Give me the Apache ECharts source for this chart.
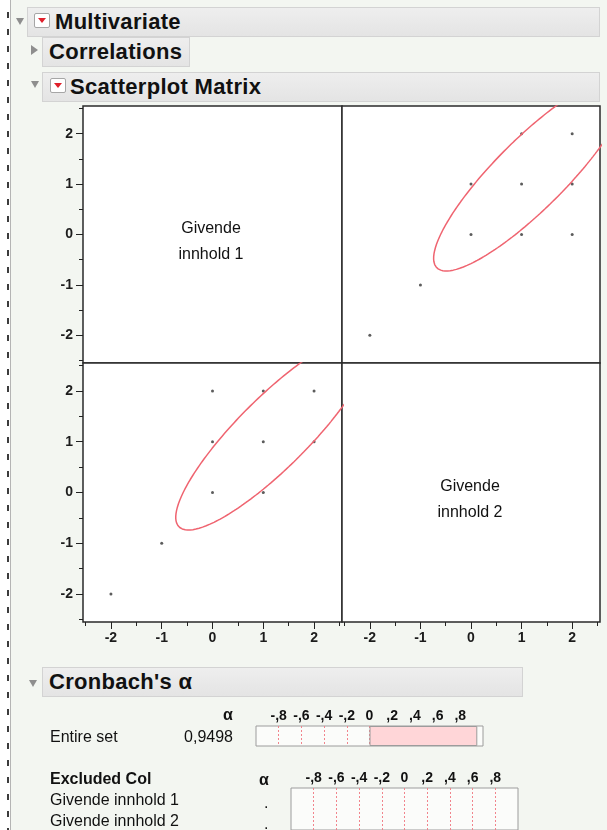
<!DOCTYPE html>
<html>
<head>
<meta charset="utf-8">
<title>Multivariate</title>
<script src="https://cdn.jsdelivr.net/npm/echarts@6/dist/echarts.min.js"></script>
<style>
html,body{margin:0;padding:0;}
body{width:607px;height:830px;overflow:hidden;background:#fff;position:relative;
  font-family:"Liberation Sans",Arial,Helvetica,sans-serif;color:#111;}
#page{position:absolute;left:11px;top:0;width:596px;height:830px;background:#f3f6f1;}
#edge{position:absolute;left:10px;top:0;width:1px;height:830px;background:#b4b4b4;}
#marks{position:absolute;left:7px;top:12px;width:2px;height:818px;
  background:repeating-linear-gradient(#3c3c3c 0 6px,transparent 6px 17px);}
#chart{position:absolute;left:0;top:0;width:607px;height:830px;z-index:1;}
.hdr{position:absolute;height:30px;box-sizing:border-box;background:linear-gradient(#eeeeee,#e4e4e4);
  border:1px solid #d3d3d3;font-weight:bold;font-size:22px;line-height:28px;white-space:nowrap;z-index:2;}
.hdr span{position:absolute;top:0;letter-spacing:0.3px;}
.tri-d{position:absolute;width:0;height:0;border-left:4px solid transparent;border-right:4px solid transparent;
  border-top:7px solid #8e8e8e;z-index:2;}
.tri-r{position:absolute;width:0;height:0;border-top:5px solid transparent;border-bottom:5px solid transparent;
  border-left:7px solid #8e8e8e;z-index:2;}
.icon{position:absolute;top:5px;width:16px;height:15px;box-sizing:border-box;background:#fff;
  border:1px solid #a6a6a6;border-radius:2px;}
.icon:after{content:"";position:absolute;left:3px;top:4px;width:0;height:0;border-left:4px solid transparent;
  border-right:4px solid transparent;border-top:5px solid #e0202b;}
.txt{position:absolute;font-size:16px;line-height:20px;white-space:nowrap;z-index:2;}
.b{font-weight:bold;}
.cell{position:absolute;font-size:16px;line-height:26px;text-align:center;width:120px;z-index:2;}
</style>
</head>
<body>
<div id="page"></div>
<div id="edge"></div>
<div id="marks"></div>

<div class="tri-d" style="left:16px;top:18px;"></div>
<div class="hdr" style="left:27px;top:7px;width:573px;"><div class="icon" style="left:6px;"></div><span style="left:27px;">Multivariate</span></div>
<div class="tri-r" style="left:31px;top:45px;"></div>
<div class="hdr" style="left:42px;top:37px;width:148px;"><span style="left:6px;">Correlations</span></div>
<div class="tri-d" style="left:31px;top:81px;"></div>
<div class="hdr" style="left:42px;top:72px;width:558px;"><div class="icon" style="left:7px;"></div><span style="left:27px;">Scatterplot Matrix</span></div>

<div class="cell" style="left:151px;top:215px;">Givende<br>innhold 1</div>
<div class="cell" style="left:410px;top:473px;">Givende<br>innhold 2</div>

<div class="tri-d" style="left:29px;top:680px;"></div>
<div class="hdr" style="left:42px;top:667px;width:481px;"><span style="left:6px;">Cronbach's α</span></div>

<div class="txt b" style="left:223px;top:705px;">α</div>
<div class="txt" style="left:50px;top:727px;">Entire set</div>
<div class="txt" id="alphaTxt" style="left:150px;width:83px;text-align:right;top:727px;"></div>
<div class="txt b" style="left:50px;top:769px;">Excluded Col</div>
<div class="txt b" style="left:259px;top:770px;">α</div>
<div class="txt" style="left:50px;top:790px;">Givende innhold 1</div>
<div class="txt" style="left:264px;top:793px;">.</div>
<div class="txt" style="left:50px;top:811px;">Givende innhold 2</div>
<div class="txt" style="left:264px;top:814px;">.</div>

<div id="chart"></div>
<script>
var innhold1 = [-2, -1, 0, 0, 0, 1, 1, 1, 2, 2];
var innhold2 = [-2, -1, 0, 1, 2, 0, 1, 2, 1, 2];
var majorTicks = [-2, -1, 0, 1, 2];
var minorTicks = [-2.5, -1.5, -0.5, 0.5, 1.5, 2.5];

// summary stats for the 95% density ellipse (innhold 1, innhold 2)
var ellipseMean = [1.2, 1.18];
var ellipseSd = [0.786, 0.784];
var ellipseCorr = 0.87;
var ellipseChi2 = 5.991;

// Cronbach's alpha
var alphaTicks = [-0.8, -0.6, -0.4, -0.2, 0, 0.2, 0.4, 0.6, 0.8];
var alphaEntire = [0.9498];
var excludedCols = ['Givende innhold 1', 'Givende innhold 2'];
var alphaExcluded = [null, null];

document.getElementById('alphaTxt').textContent = alphaEntire[0].toFixed(4).replace('.', ',');

function pairs(xs, ys) {
	var out = [];
	for (var i = 0; i < xs.length; i++) out.push([xs[i], ys[i]]);
	return out;
}

// ellipse outline from mean / sd / correlation
function ellipsePts(swap) {
	var k = Math.sqrt(ellipseChi2), pts = [];
	var q = Math.sqrt(1 - ellipseCorr * ellipseCorr);
	for (var i = 0; i <= 240; i++) {
		var t = i / 240 * 2 * Math.PI;
		var a = ellipseMean[0] + k * ellipseSd[0] * Math.cos(t);
		var b = ellipseMean[1] + k * ellipseSd[1] * (ellipseCorr * Math.cos(t) + q * Math.sin(t));
		pts.push(swap ? [b, a] : [a, b]);
	}
	return pts;
}

var tickColor = '#222';
var lblStyle = {fontSize: 14, fontWeight: 'bold', color: '#1c1c1c', fontFamily: 'Liberation Sans, Arial, sans-serif'};

function scatAxis(grid, pos, show, minor) {
	var ax = {
		type: 'value', gridIndex: grid, min: -2.55, max: 2.55, position: pos,
		show: show, splitLine: {show: false}, axisLine: {show: false, onZero: false},
		axisTick: {show: true, customValues: minor ? minorTicks : majorTicks, length: minor ? 4 : 7,
			lineStyle: {color: tickColor, width: 1}},
		axisLabel: {show: !minor, customValues: majorTicks, margin: pos == 'left' ? 10 : 9}
	};
	for (var k in lblStyle) ax.axisLabel[k] = lblStyle[k];
	return ax;
}

function alphaAxis(grid, len) {
	return {
		type: 'value', gridIndex: grid, min: -1, max: 1, position: 'top',
		splitLine: {show: false}, axisLine: {show: false, onZero: false},
		axisTick: {show: true, inside: true, customValues: alphaTicks, length: len,
			lineStyle: {color: '#f1848c', width: 1, type: [2, 2]}},
		axisLabel: {customValues: alphaTicks, margin: 3, fontSize: 14, fontWeight: 'bold', color: '#111',
			fontFamily: 'Liberation Sans, Arial, sans-serif',
			formatter: function (v) {
				if (Math.abs(v) < 1e-9) return '0';
				return (v < 0 ? '-' : '') + ',' + Math.round(Math.abs(v) * 10);
			}}
	};
}

var cellGrid = {show: true, backgroundColor: '#fff', borderColor: '#2a2a2a', borderWidth: 1.5};
function g(l, t, w, h) {
	return Object.assign({left: l, top: t, width: w, height: h}, cellGrid);
}

var option = {
	animation: false,
	grid: [
		g(83, 106, 259, 257),
		g(342, 106, 258, 257),
		g(83, 363, 259, 259),
		g(342, 363, 258, 259),
		{left: 256, top: 726, width: 227, height: 20, show: true, backgroundColor: '#fbfcfa', borderColor: '#9c9c9c', borderWidth: 1},
		{left: 291, top: 788, width: 227, height: 46, show: true, backgroundColor: '#fbfcfa', borderColor: '#9c9c9c', borderWidth: 1}
	],
	xAxis: [
		scatAxis(0, 'bottom', false, false),
		scatAxis(1, 'bottom', false, false),
		scatAxis(2, 'bottom', true, false),
		scatAxis(3, 'bottom', true, false),
		scatAxis(2, 'bottom', true, true),
		scatAxis(3, 'bottom', true, true),
		alphaAxis(4, 20),
		alphaAxis(5, 46)
	],
	yAxis: [
		scatAxis(0, 'left', true, false),
		scatAxis(1, 'left', false, false),
		scatAxis(2, 'left', true, false),
		scatAxis(3, 'left', false, false),
		scatAxis(0, 'left', true, true),
		scatAxis(2, 'left', true, true),
		{type: 'category', gridIndex: 4, data: ['Entire set'], show: false},
		{type: 'category', gridIndex: 5, data: excludedCols, inverse: true, show: false}
	],
	series: [
		{type: 'scatter', xAxisIndex: 1, yAxisIndex: 1, data: pairs(innhold2, innhold1),
			symbolSize: 3, itemStyle: {color: '#333'}},
		{type: 'scatter', xAxisIndex: 2, yAxisIndex: 2, data: pairs(innhold1, innhold2),
			symbolSize: 3, itemStyle: {color: '#333'}},
		{type: 'line', xAxisIndex: 1, yAxisIndex: 1, data: ellipsePts(true), showSymbol: false,
			clip: true, lineStyle: {color: '#ef6470', width: 1.5}},
		{type: 'line', xAxisIndex: 2, yAxisIndex: 2, data: ellipsePts(false), showSymbol: false,
			clip: true, lineStyle: {color: '#ef6470', width: 1.5}},
		{type: 'bar', xAxisIndex: 6, yAxisIndex: 6, data: alphaEntire, barWidth: '100%',
			itemStyle: {color: '#ffd6d8', borderColor: '#9c9c9c', borderWidth: 1}},
		{type: 'bar', xAxisIndex: 7, yAxisIndex: 7, data: alphaExcluded, barWidth: '100%',
			itemStyle: {color: '#ffd6d8', borderColor: '#9c9c9c', borderWidth: 1}}
	]
};

var myChart = echarts.init(document.getElementById('chart'));
myChart.setOption(option);
</script>
</body>
</html>
